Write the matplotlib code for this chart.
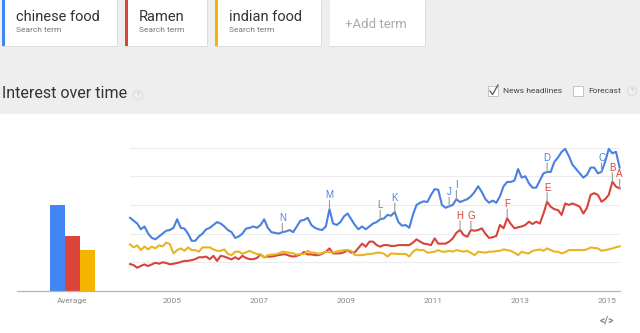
import matplotlib
matplotlib.use("Agg")
import matplotlib.pyplot as plt
from matplotlib.lines import Line2D
from matplotlib.patches import Rectangle

W, H = 640, 333

terms = ["chinese food", "Ramen", "indian food"]
term_colors = ["#4285f4", "#db4437", "#f4b400"]
line_colors = ["#4a80e0", "#d6443a", "#eab420"]
averages = [60, 38, 28.5]
year_ticks = [2005, 2007, 2009, 2011, 2013, 2015]
start_year = 2004

# monthly interest, Jan 2004 .. Apr 2015
chinese_food = [
    51, 49, 47, 43, 45, 40, 37, 36, 38, 40, 42, 42.5,
    44, 50, 44, 43.5, 40, 35, 35, 38, 40, 43, 44, 46,
    48, 47, 45, 42.5, 41, 37, 38, 40, 43.5, 44, 45, 44,
    46, 50, 44, 41, 40.5, 40, 41, 41.5, 42.5, 41, 45, 49,
    49.5, 51, 46, 44, 43, 42.5, 45, 57, 47, 46, 48, 52,
    54, 50, 46, 43, 45, 43, 45, 47, 48, 50, 50.5, 53,
    52.5, 55, 48, 45.5, 46, 44, 53, 60, 61.5, 62.5, 62, 67,
    71, 70.5, 60, 58, 59, 60, 64, 62, 63, 64, 66, 69,
    73, 69, 64, 61.5, 63, 61.5, 66, 73, 76, 76, 77, 85,
    79, 80, 75, 72, 72, 77, 82, 83, 83, 90, 93, 97,
    99, 94, 88, 85, 82, 79, 81, 86, 86, 82, 83, 90,
    99, 96, 97, 86,
]
ramen = [
    18.8, 18, 16.2, 17.5, 18.5, 17.4, 18.5, 19.7, 19, 20, 19.5, 18.6,
    19, 19.5, 20.2, 21, 21, 21.5, 22.2, 23.5, 23.5, 24, 22.2, 24.5,
    21, 24.5, 24, 23, 22, 23.5, 22.2, 24.5, 23, 22.2, 22.2, 23,
    25.5, 23.5, 24, 24, 24.5, 25, 25.5, 25.5, 24.5, 24, 24.5, 25.5,
    27.2, 25.5, 25.5, 25, 25, 26, 27.4, 29.7, 26.2, 26.2, 26.2, 27,
    28.5, 26.7, 27, 30, 33, 30.9, 34.4, 34.4, 32, 30.9, 32, 32,
    31.4, 31.4, 32, 32, 32, 32, 33.7, 36, 34.4, 33, 32.6, 32,
    36.7, 33, 33, 33, 34.4, 36.7, 40.6, 42.5, 39, 37.8, 42.5, 42,
    42.5, 43.7, 39.9, 37, 37.5, 38.3, 46, 43.7, 50.7, 46.7, 43.7, 44.4,
    45, 46, 48.3, 46.7, 48.3, 47, 54, 62.2, 58.7, 57, 56.4, 53,
    61, 60, 61, 60, 58.7, 54, 58, 67, 68.2, 67, 62.2, 64,
    67, 76.2, 72.7, 71.5,
]
indian_food = [
    32.5, 30.4, 31.8, 28.5, 31, 29, 30.9, 29.7, 31.8, 31.1, 33.7, 32.7,
    26.2, 28.5, 29.7, 28, 30.4, 28.5, 28.5, 27.4, 30.4, 30.4, 30.4, 29,
    28, 28, 29, 25.8, 25, 27.4, 27.4, 25.8, 27, 28, 26.7, 25.8,
    25.5, 23.2, 25, 25.3, 25.5, 26.2, 27.4, 27, 26.7, 26.2, 25.3, 25.8,
    25.8, 28, 26.7, 26.7, 25.8, 26.5, 27.4, 27, 26.7, 27.5, 28, 28.5,
    28.5, 28, 25, 25, 25, 25.5, 25.8, 26, 26.7, 26.7, 26, 24,
    26.2, 26, 25.8, 25.8, 25.8, 24, 27.4, 29, 28.5, 28.5, 26.7, 27,
    27.4, 28.5, 27.4, 27.4, 28, 27.4, 28.5, 28, 27.4, 28, 26.5, 25,
    27.4, 27, 26.7, 27.4, 27.4, 27.8, 28, 29, 28.5, 28, 26.7, 25,
    27.4, 26.5, 26.2, 28, 28.5, 29, 28, 29.7, 28.5, 27.4, 27.4, 26.2,
    27, 28.5, 28.5, 28.5, 28.5, 28.5, 29, 30.4, 30, 29.7, 28, 28.5,
    29, 29.7, 30.5, 31.1,
]
series = [chinese_food, ramen, indian_food]

# news headline markers (letter, month index)
blue_letters = ["N", "M", "L", "K", "J", "I", "D", "C"]
blue_months = [42, 55, 69, 73, 88, 90, 115, 130]
red_letters = ["H", "G", "F", "E", "B", "A"]
red_months = [91, 94, 104, 115, 133, 135]


def fx(x):
    return x / W


def fy(y):
    return 1 - y / H


def add_rect(fig, x0, y0, x1, y1, color, z=0, **kw):
    r = Rectangle((fx(x0), fy(y1)), fx(x1 - x0), (y1 - y0) / H,
                  transform=fig.transFigure, facecolor=color,
                  edgecolor=kw.pop("ec", "none"), zorder=z, **kw)
    fig.patches.append(r)
    return r


def qmark(fig, x, y):
    fig.text(fx(x), fy(y), "?", fontsize=4.5, color="#c0c0c0",
             ha="center", va="center",
             bbox=dict(boxstyle="circle,pad=0.35", fc="none", ec="#d8d8d8", lw=0.6))


def checkbox(fig, x, y, checked):
    add_rect(fig, x, y, x + 10, y + 10, "white", z=2, ec="#c4c4c4", lw=0.7)
    if checked:
        fig.add_artist(Line2D([fx(x + 2), fx(x + 4.5), fx(x + 10)],
                              [fy(y + 5), fy(y + 8.5), fy(y - 1)],
                              transform=fig.transFigure, color="#555555", lw=0.9, zorder=3))


def mark_events(ax, xs, values, letters, months, color):
    for letter, m in zip(letters, months):
        ax.annotate("", xy=(xs[m], values[m]), xytext=(0, 9), textcoords="offset pixels",
                    arrowprops=dict(arrowstyle="-", color="#9a9a9a", lw=0.8,
                                    shrinkA=0, shrinkB=0), annotation_clip=False)
        ax.annotate(letter, xy=(xs[m], values[m]), xytext=(0, 9), textcoords="offset pixels",
                    ha="center", va="bottom", fontsize=7, color=color,
                    family="Liberation Sans", annotation_clip=False)


plt.rcParams["font.family"] = ["Roboto", "DejaVu Sans"]
fig = plt.figure(figsize=(6.4, 3.33), dpi=100, facecolor="white")

# header band
add_rect(fig, 0, 0, W, 114, "#eeeeee", z=0)

# term cards
cards = [(2, 117), (125, 207), (215, 321)]
for (x0, x1), term, c in zip(cards, terms, term_colors):
    add_rect(fig, x0, 1, x1 + 1, 47, "#dcdcdc", z=1)
    add_rect(fig, x0, 0, x1, 46, "white", z=1)
    add_rect(fig, x0, 0, x0 + 2.5, 46, c, z=2)
    fig.text(fx(x0 + 14), fy(17), term, fontsize=10.5, color="#333333",
             ha="left", va="center")
    fig.text(fx(x0 + 14), fy(30), "Search term", fontsize=6, color="#777777",
             ha="left", va="center")
add_rect(fig, 330, 1, 426, 47, "#dcdcdc", z=1)
add_rect(fig, 330, 0, 425, 46, "white", z=1)
fig.text(fx(345), fy(24), "+Add term", fontsize=9.5, color="#aaaaaa",
         ha="left", va="center")

fig.text(fx(2), fy(93), "Interest over time", fontsize=11.5, color="#333333",
         ha="left", va="center")
qmark(fig, 138, 95)
checkbox(fig, 488, 86, True)
fig.text(fx(503), fy(91), "News headlines", fontsize=6, color="#444444",
         ha="left", va="center")
checkbox(fig, 573, 86, False)
fig.text(fx(588), fy(91), "Forecast", fontsize=6, color="#444444",
         ha="left", va="center")
qmark(fig, 632, 91)
fig.text(fx(607), fy(321), "</>", fontsize=7.5, color="#888888",
         ha="center", va="center", weight="bold")

bottom = fy(291)
height = (291 - 140) / H
ymax = (291 - 140) / 1.435

# average bars
ax_bar = fig.add_axes([fx(17), bottom, fx(130 - 17), height])
ax_bar.bar(range(len(averages)), averages, width=1.0, color=term_colors)
ax_bar.set_xlim(-2.7, 4.83)
ax_bar.set_ylim(0, ymax)
ax_bar.set_xticks([1])
ax_bar.set_xticklabels(["Average"])
ax_bar.set_yticks([])

# time series
months = list(range(len(chinese_food)))
xs = [start_year + (m + 0.5) / 12 for m in months]
ax = fig.add_axes([fx(130), bottom, fx(620 - 130), height])
for vals, c in zip(series, line_colors):
    ax.plot(xs, vals, color=c, lw=1.5, clip_on=False, zorder=3)
ax.set_xlim(2004.042, 2015.30)
ax.set_ylim(0, ymax)
ax.set_xticks(year_ticks)
ax.set_xticklabels([str(y) for y in year_ticks])
ax.set_yticks([20, 40, 60, 80, 100])
ax.set_yticklabels([])
ax.grid(axis="y", color="#ececec", lw=0.8)
ax.set_axisbelow(True)

mark_events(ax, xs, chinese_food, blue_letters, blue_months, "#4a80e0")
mark_events(ax, xs, ramen, red_letters, red_months, "#d6443a")

for a in (ax_bar, ax):
    a.set_facecolor("none")
    for s in ("top", "right", "left"):
        a.spines[s].set_visible(False)
    a.spines["bottom"].set_color("#b5b5b5")
    a.spines["bottom"].set_linewidth(0.9)
    a.tick_params(axis="both", length=0, pad=5, labelsize=6, labelcolor="#888888")

fig.savefig("out.png", dpi=100, facecolor="white")
